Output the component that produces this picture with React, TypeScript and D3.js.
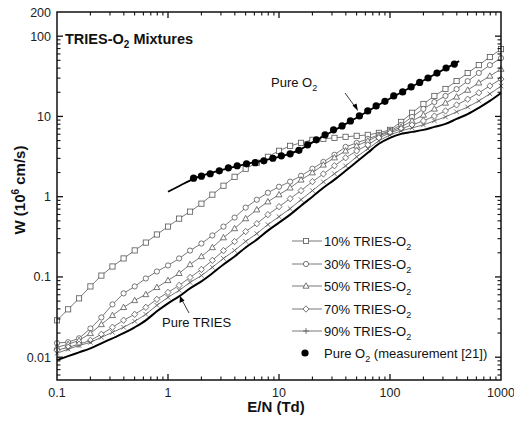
import React from 'react';
import * as d3 from 'd3';

// E/N grid (Td) used by the calculated curves
const EN = [0.1, 0.126, 0.158, 0.2, 0.251, 0.316, 0.398, 0.501, 0.631, 0.794, 1, 1.26, 1.58, 2, 2.51, 3.16, 3.98, 5.01, 6.31, 7.94, 10, 12.6, 15.8, 20, 25.1, 31.6, 39.8, 50.1, 63.1, 79.4, 100, 126, 158, 200, 251, 316, 398, 501, 631, 794, 1000];

// Drift velocity W (10^6 cm/s)
const wPureTRIES = [0.0092, 0.0103, 0.0115, 0.0129, 0.0149, 0.0172, 0.0199, 0.0236, 0.0288, 0.0373, 0.0469, 0.0573, 0.072, 0.088, 0.111, 0.143, 0.18, 0.233, 0.292, 0.378, 0.475, 0.598, 0.773, 1.0, 1.29, 1.63, 2.1, 2.72, 3.52, 4.56, 5.41, 6.06, 6.42, 6.8, 7.41, 8.07, 9.31, 10.7, 12.8, 15.6, 19.6];
const w10 = [0.0288, 0.0395, 0.0541, 0.0762, 0.104, 0.135, 0.17, 0.214, 0.268, 0.338, 0.424, 0.533, 0.651, 0.819, 1.06, 1.37, 1.77, 2.23, 2.65, 3.14, 3.73, 4.3, 4.69, 5.11, 5.26, 5.41, 5.57, 5.73, 5.89, 6.24, 6.8, 8.55, 11.1, 14.3, 18.0, 22.0, 27.6, 34.7, 43.6, 54.9, 68.9];
const w30 = [0.015, 0.0154, 0.0172, 0.0228, 0.0313, 0.0455, 0.0624, 0.0762, 0.0957, 0.117, 0.139, 0.17, 0.213, 0.261, 0.329, 0.424, 0.549, 0.731, 0.916, 1.12, 1.33, 1.54, 1.82, 2.23, 2.71, 3.33, 4.17, 4.68, 5.25, 5.9, 6.61, 7.84, 9.86, 12.4, 15.1, 18.0, 21.9, 27.5, 34.8, 43.6, 53.3];
const w50 = [0.0133, 0.0145, 0.0162, 0.0198, 0.0256, 0.0332, 0.0418, 0.051, 0.0605, 0.0741, 0.0905, 0.111, 0.143, 0.18, 0.233, 0.309, 0.401, 0.534, 0.688, 0.866, 1.06, 1.29, 1.62, 1.99, 2.49, 3.06, 3.72, 4.3, 4.96, 5.73, 6.42, 7.4, 8.79, 10.4, 12.4, 14.7, 17.5, 21.3, 26.2, 31.9, 38.9];
const w70 = [0.0122, 0.0133, 0.0145, 0.0162, 0.0193, 0.0236, 0.0289, 0.0342, 0.0418, 0.0526, 0.0642, 0.0785, 0.0986, 0.124, 0.161, 0.213, 0.276, 0.368, 0.461, 0.597, 0.751, 0.945, 1.19, 1.54, 1.92, 2.43, 3.05, 3.72, 4.42, 5.41, 6.24, 6.99, 7.84, 8.79, 10.1, 11.7, 13.9, 16.4, 19.7, 24.0, 29.2];
const w90 = [0.0112, 0.0126, 0.014, 0.0153, 0.0177, 0.0204, 0.0236, 0.028, 0.0342, 0.0443, 0.0557, 0.068, 0.0855, 0.104, 0.132, 0.17, 0.214, 0.277, 0.347, 0.449, 0.564, 0.71, 0.918, 1.19, 1.53, 1.93, 2.42, 3.14, 3.95, 4.97, 5.89, 6.6, 7.2, 7.84, 8.8, 9.86, 11.4, 13.1, 15.6, 19.1, 23.9];

// Pure O2: calculated line and measurement [21]
const enO2Calc = [1, 1.3, 1.7, 3, 5, 8, 12, 15, 20, 40, 100, 200, 420];
const wO2Calc = [1.15, 1.39, 1.67, 2.14, 2.55, 2.92, 3.37, 3.77, 4.75, 8.07, 16.7, 28.0, 48.9];
const enO2Meas = [1.7, 2.0, 2.4, 2.9, 3.5, 4.2, 5.1, 6.1, 7.3, 8.8, 10.5, 12.6, 15.1, 18.1, 21.7, 26, 31, 37, 44, 53, 63, 75, 90, 108, 130, 155, 185, 220, 265, 320, 380];
const wO2Meas = [1.7, 1.8, 1.93, 2.1, 2.29, 2.43, 2.57, 2.65, 2.8, 3.01, 3.23, 3.42, 3.78, 4.43, 5.11, 5.89, 6.8, 7.62, 8.8, 10.15, 11.7, 13.5, 15.4, 18.0, 20.2, 23.3, 26.5, 30.1, 34.7, 40.1, 44.9];

const seriesNames = ['10% TRIES-O', '30% TRIES-O', '50% TRIES-O', '70% TRIES-O', '90% TRIES-O'];
const seriesMarkers = ['square', 'circle', 'triangle', 'diamond', 'x'];
const seriesValues = [w10, w30, w50, w70, w90];

const xTickLabels = ['0.1', '1', '10', '100', '1000'];
const xTickValues = [0.1, 1, 10, 100, 1000];
const yTickLabels = ['0.01', '0.1', '1', '10', '100', '200'];
const yTickValues = [0.01, 0.1, 1, 10, 100, 200];

const FONT = 'Arial, "Liberation Sans", sans-serif';
const GRAY = '#555';

function Marker({ type, x, y }: { type: string; x: number; y: number }) {
  const s = 2.6;
  const common = { fill: '#fff', stroke: GRAY, strokeWidth: 0.8 };
  if (type === 'square') return <rect x={x - s} y={y - s} width={2 * s} height={2 * s} {...common} />;
  if (type === 'circle') return <circle cx={x} cy={y} r={s} {...common} />;
  if (type === 'triangle')
    return <path d={`M${x},${y - s - 0.6}L${x + s + 0.4},${y + s - 0.4}L${x - s - 0.4},${y + s - 0.4}Z`} {...common} />;
  if (type === 'diamond')
    return <path d={`M${x},${y - s - 0.6}L${x + s + 0.4},${y}L${x},${y + s + 0.6}L${x - s - 0.4},${y}Z`} {...common} />;
  if (type === 'x')
    return (
      <path d={`M${x - 2.3},${y - 2.3}L${x + 2.3},${y + 2.3}M${x - 2.3},${y + 2.3}L${x + 2.3},${y - 2.3}`} stroke={GRAY} strokeWidth={0.8} fill="none" />
    );
  if (type === 'plus')
    return <path d={`M${x - 3},${y}L${x + 3},${y}M${x},${y - 3}L${x},${y + 3}`} stroke={GRAY} strokeWidth={0.8} fill="none" />;
  if (type === 'filled') return <circle cx={x} cy={y} r={3.6} fill="#000" />;
  return null;
}

export default function App() {
  const L = 57, R = 501, T = 12, B = 380;
  const x = d3.scaleLog().domain([0.1, 1000]).range([L, R]);
  const y = d3.scaleLog().domain([0.0052, 200]).range([B, T]);

  const lineLin = d3.line<[number, number]>().x((d) => x(d[0])).y((d) => y(d[1]));
  const lineSmooth = d3.line<[number, number]>().x((d) => x(d[0])).y((d) => y(d[1])).curve(d3.curveMonotoneX);

  const xMinor: number[] = [];
  [0.1, 1, 10, 100].forEach((dec) => { for (let m = 2; m <= 9; m++) xMinor.push(dec * m); });
  const yMinor: number[] = [];
  [0.001, 0.01, 0.1, 1, 10, 100].forEach((dec) => {
    for (let m = 2; m <= 9; m++) { const v = dec * m; if (v > 0.0052 && v < 200) yMinor.push(v); }
  });
  const yMajor = [0.01, 0.1, 1, 10, 100];
  const xMajor = [1, 10, 100];
  const maj = 6, min = 3.5;

  const legendY = [241, 264, 286, 309, 331, 353];

  return (
    <svg width={514} height={422} style={{ position: 'absolute', left: 0, top: 0, background: '#fff' }} fontFamily={FONT}>
      <rect x={0} y={0} width={514} height={422} fill="#fff" />
      {/* mixture curves */}
      {seriesValues.map((vals, si) => {
        const pts = EN.map((e, i) => [e, vals[i]] as [number, number]);
        return (
          <g key={si}>
            <path d={lineLin(pts) || ''} fill="none" stroke={GRAY} strokeWidth={0.8} />
            {pts.map((p, i) => (
              <Marker key={i} type={seriesMarkers[si]} x={x(p[0])} y={y(p[1])} />
            ))}
          </g>
        );
      })}
      {/* pure TRIES */}
      <path d={lineSmooth(EN.map((e, i) => [e, wPureTRIES[i]] as [number, number])) || ''} fill="none" stroke="#000" strokeWidth={2} />
      {/* pure O2 */}
      <path d={lineSmooth(enO2Calc.map((e, i) => [e, wO2Calc[i]] as [number, number])) || ''} fill="none" stroke="#000" strokeWidth={1.8} />
      {enO2Meas.map((e, i) => (
        <Marker key={i} type="filled" x={x(e)} y={y(wO2Meas[i])} />
      ))}

      {/* annotations */}
      <text x={271} y={87} fontSize={13} fill="#111">
        Pure O<tspan dy={4} fontSize={9}>2</tspan>
      </text>
      <line x1={345} y1={93} x2={356} y2={108} stroke="#222" strokeWidth={0.9} />
      <path d="M358,111 L352.5,105.5 L356.5,103.5 Z" fill="#000" />
      <text x={162} y={327} fontSize={13} fill="#111">Pure TRIES</text>
      <line x1={189} y1={313} x2={182} y2={300} stroke="#222" strokeWidth={0.9} />
      <path d="M180,296 L179.5,303 L184.5,300.5 Z" fill="#000" />

      {/* title */}
      <text x={65} y={44} fontSize={14.5} fontWeight="bold" fill="#111">
        TRIES-O<tspan dy={4} fontSize={10}>2</tspan><tspan dy={-4}> Mixtures</tspan>
      </text>

      {/* legend */}
      {seriesNames.map((name, i) => (
        <g key={name}>
          <line x1={292} x2={322} y1={legendY[i]} y2={legendY[i]} stroke={GRAY} strokeWidth={0.8} />
          <Marker type={i === 4 ? 'plus' : seriesMarkers[i]} x={306} y={legendY[i]} />
          <text x={324} y={legendY[i] + 4.5} fontSize={13} fill="#111">
            {name}<tspan dy={4} fontSize={9}>2</tspan>
          </text>
        </g>
      ))}
      <Marker type="filled" x={305} y={legendY[5]} />
      <text x={324} y={legendY[5] + 4.5} fontSize={13} fill="#111">
        Pure O<tspan dy={4} fontSize={9}>2</tspan><tspan dy={-4}> (measurement [21])</tspan>
      </text>

      {/* frame */}
      <rect x={L} y={T} width={R - L} height={B - T} fill="none" stroke="#111" strokeWidth={1.5} />
      {/* x ticks */}
      {xMajor.map((v) => (
        <g key={'xM' + v}>
          <line x1={x(v)} x2={x(v)} y1={B} y2={B - maj} stroke="#111" strokeWidth={1.3} />
          <line x1={x(v)} x2={x(v)} y1={T} y2={T + maj} stroke="#111" strokeWidth={1.3} />
        </g>
      ))}
      {xMinor.map((v) => (
        <g key={'xm' + v}>
          <line x1={x(v)} x2={x(v)} y1={B} y2={B - min} stroke="#111" strokeWidth={1.1} />
          <line x1={x(v)} x2={x(v)} y1={T} y2={T + min} stroke="#111" strokeWidth={1.1} />
        </g>
      ))}
      {/* y ticks */}
      {yMajor.map((v) => (
        <g key={'yM' + v}>
          <line x1={L} x2={L + maj} y1={y(v)} y2={y(v)} stroke="#111" strokeWidth={1.3} />
          <line x1={R} x2={R - maj} y1={y(v)} y2={y(v)} stroke="#111" strokeWidth={1.3} />
        </g>
      ))}
      {yMinor.map((v) => (
        <g key={'ym' + v}>
          <line x1={L} x2={L + min} y1={y(v)} y2={y(v)} stroke="#111" strokeWidth={1.1} />
          <line x1={R} x2={R - min} y1={y(v)} y2={y(v)} stroke="#111" strokeWidth={1.1} />
        </g>
      ))}
      {/* tick labels */}
      {xTickValues.map((v, i) => (
        <text key={'xl' + v} x={x(v)} y={397} fontSize={12.5} textAnchor="middle" fill="#222">{xTickLabels[i]}</text>
      ))}
      {yTickValues.map((v, i) => (
        <text key={'yl' + v} x={51} y={y(v) + 4.5} fontSize={12.5} textAnchor="end" fill="#222">{yTickLabels[i]}</text>
      ))}
      {/* axis titles */}
      <text x={276} y={412} fontSize={15} fontWeight="bold" textAnchor="middle" fill="#111">E/N (Td)</text>
      <text transform="translate(25,190) rotate(-90)" fontSize={15} fontWeight="bold" textAnchor="middle" fill="#111">
        W (10<tspan dy={-6} fontSize={10}>6</tspan><tspan dy={6}> cm/s)</tspan>
      </text>
    </svg>
  );
}
